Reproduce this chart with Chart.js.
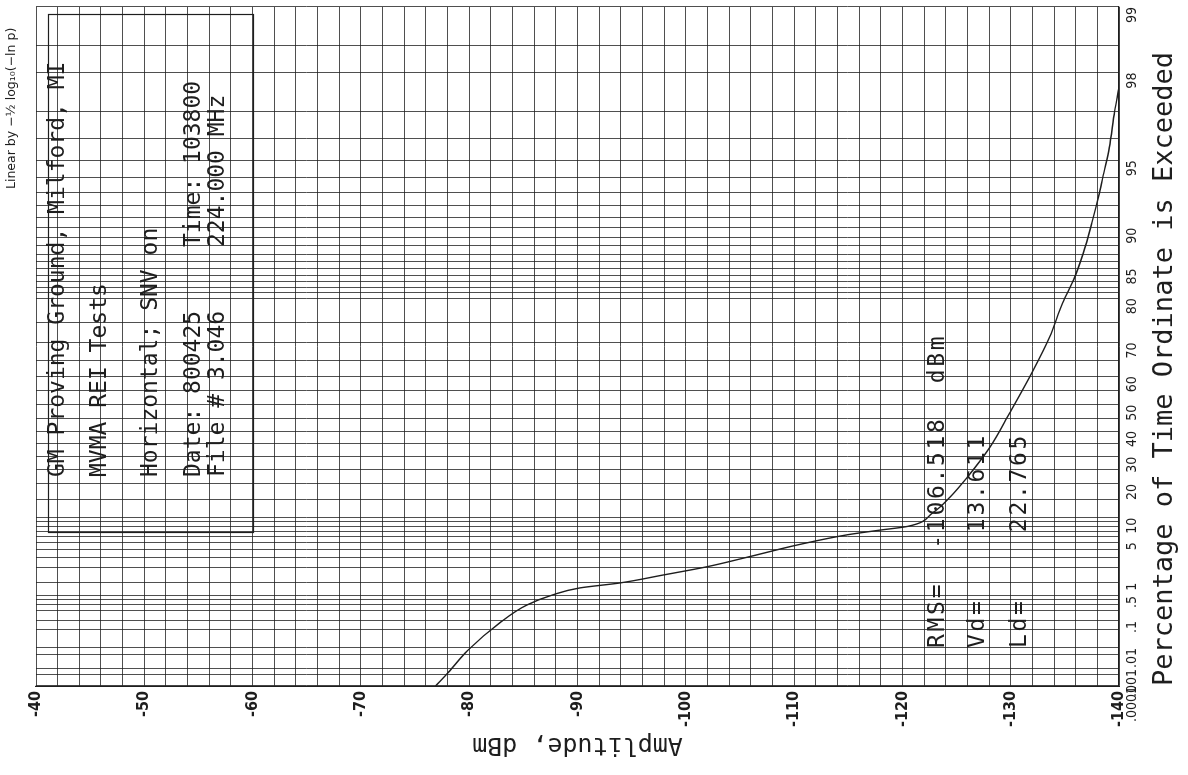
<!DOCTYPE html>
<html>
<head>
<meta charset="utf-8">
<script src="https://cdn.jsdelivr.net/npm/chart.js@4.4.1/dist/chart.umd.min.js"></script>
<style>
  html, body { margin: 0; padding: 0; background: #fff; width: 1188px; height: 775px; overflow: hidden; }
  /* the plot is drawn upright and the sheet is turned a quarter turn, like the plotter page */
  #sheet { position: absolute; left: 0; top: 0; width: 775px; height: 1188px;
           transform-origin: 0 0; transform: translate(0, 775px) rotate(-90deg); }
</style>
</head>
<body>
<div id="sheet"><canvas id="apd" width="775" height="1188"></canvas></div>
<script>
// measured APD curve: amplitude (dBm) vs percentage of time exceeded
const amplitudeDbm = [-76.9, -78.1, -79.9, -82.8, -85.3, -87.7, -90.2, -93.9, -97.9, -101.8,
  -105.7, -110.3, -114.9, -117.9, -120.5, -122.8, -124.4, -126.0, -128.1, -129.9,
  -132.1, -133.6, -134.8, -135.8, -136.7, -137.5, -138.2, -138.6, -139.1, -139.6, -140.0];
const percentExceeded = [0.0001, 0.00067, 0.0081, 0.085, 0.29, 0.53, 0.77, 0.99, 1.44, 2.03,
  3.0, 4.6, 6.3, 7.2, 8.0, 11.2, 15.7, 22.4, 33.8, 46.9,
  62.0, 71.4, 79.1, 83.2, 87.1, 90.5, 93.0, 94.3, 95.6, 97.0, 97.65];

// rayleigh paper rulings and the printed labels
const percentGrid = [0.0001, 0.0005, 0.001, 0.005, 0.01, 0.05, 0.1, 0.2, 0.3, 0.4, 0.5,
  1, 2, 3, 4, 5, 6, 7, 8, 9, 10, 15, 20, 25, 30, 35, 40, 45, 50, 55, 60, 65, 70, 75,
  80, 81, 82, 83, 84, 85, 86, 87, 88, 89, 90, 91, 92, 93, 94, 95, 96, 97, 98, 98.5, 99];
const percentTickValues = [0.0001, 0.001, 0.01, 0.1, 0.5, 1, 5, 10, 20, 30, 40, 50, 60, 70, 80, 85, 90, 95, 98, 99];
const percentTickText = ['.0001', '.001', '.01', '.1', '.5', '1', '5', '10', '20', '30', '40', '50', '60', '70', '80', '85', '90', '95', '98', '99'];
const amplitudeTickValues = [-40, -50, -60, -70, -80, -90, -100, -110, -120, -130, -140];

const infoLines = ['GM Proving Ground, Milford, MI', 'MVMA REI Tests', 'Horizontal; SNV on'];
const infoDate = ['Date: 800425', 'Time: 103800'];
const infoFile = ['File # 3.046', '224.000 MHz'];
const statLines = ['RMS=  -106.518  dBm', 'Vd=    13.611', 'Ld=    22.765'];

const ink = '#1e1e1e';
const gridInk = 'rgba(30,30,30,0.78)';
const narrow = "'Liberation Sans Narrow', 'DejaVu Sans Condensed', 'Liberation Sans', sans-serif";

// linear by -1/2 log10(-ln p)
const rayleigh = p => -0.5 * Math.log10(-Math.log(p / 100));

class RayleighScale extends Chart.Scale {
  static id = 'rayleigh';
  static defaults = {};
  determineDataLimits() {
    this.min = this.options.min;
    this.max = this.options.max;
    this._t0 = rayleigh(this.min);
    this._tr = rayleigh(this.max) - this._t0;
  }
  buildTicks() {
    return percentGrid.map(v => ({ value: v }));
  }
  getLabelForValue(v) { return String(v); }
  getPixelForValue(v) {
    return this.getPixelForDecimal((rayleigh(v) - this._t0) / this._tr);
  }
  getValueForPixel(px) {
    const t = this._t0 + this.getDecimalForPixel(px) * this._tr;
    return 100 * Math.exp(-Math.pow(10, -2 * t));
  }
}
Chart.register(RayleighScale);

const notes = {
  id: 'notes',
  afterDraw(chart) {
    const ctx = chart.ctx;
    ctx.save();
    ctx.fillStyle = ink;
    ctx.strokeStyle = ink;
    ctx.textBaseline = 'middle';
    ctx.textAlign = 'left';

    ctx.font = '12.5px "DejaVu Sans"';
    ctx.fillText('Linear by \u2212\u00bd log\u2081\u2080(\u2212ln p)', 586, 12);

    ctx.lineWidth = 1.2;
    ctx.strokeRect(242.5, 48.5, 518, 205);

    ctx.font = '23px "DejaVu Sans Mono"';
    ctx.fillText(infoLines[0], 298, 58);
    ctx.fillText(infoLines[1], 298, 100);
    ctx.fillText(infoLines[2], 298, 151);
    ctx.fillText(infoDate[0], 298, 194);
    ctx.fillText(infoDate[1], 528, 194);
    ctx.fillText(infoFile[0], 298, 218);
    ctx.fillText(infoFile[1], 528, 218);

    ctx.letterSpacing = '2.7px';
    ctx.fillText(statLines[0], 127, 938);
    ctx.fillText(statLines[1], 127, 978);
    ctx.fillText(statLines[2], 127, 1020);
    ctx.restore();
  }
};

new Chart(document.getElementById('apd'), {
  type: 'line',
  data: {
    datasets: [{
      data: percentExceeded.map((p, i) => ({ x: p, y: amplitudeDbm[i] })),
      borderColor: ink,
      borderWidth: 1.4,
      pointRadius: 0,
      cubicInterpolationMode: 'monotone',
      fill: false
    }]
  },
  options: {
    responsive: false,
    animation: false,
    events: [],
    layout: { padding: { top: 36, right: 7, left: 0, bottom: 0 } },
    plugins: { legend: { display: false }, tooltip: { enabled: false } },
    scales: {
      x: {
        type: 'rayleigh',
        position: 'bottom',
        min: 0.0001,
        max: 99,
        grid: { color: gridInk, lineWidth: 1, drawTicks: false },
        border: { color: ink, width: 1.2 },
        ticks: {
          autoSkip: false, maxRotation: 0, minRotation: 0, align: 'end', padding: 5, color: ink,
          font: { family: narrow, size: 14 },
          callback: v => {
            const i = percentTickValues.indexOf(v);
            return i < 0 ? '' : percentTickText[i];
          }
        },
        title: {
          display: true,
          text: 'Percentage of Time Ordinate is Exceeded',
          align: 'start',
          color: ink,
          font: { family: 'DejaVu Sans Mono', size: 27 },
          padding: { top: 0, bottom: 7 }
        },
        afterFit: s => { s.height = 69; }
      },
      y: {
        type: 'linear',
        position: 'left',
        min: -140,
        max: -40,
        grid: { color: gridInk, lineWidth: 1, drawTicks: false },
        border: { color: ink, width: 1.2 },
        ticks: {
          stepSize: 2, autoSkip: false, padding: 5, color: ink,
          font: { family: narrow, size: 16, weight: 'bold' },
          callback: v => amplitudeTickValues.includes(v) ? String(v) : ''
        },
        title: {
          display: true,
          text: 'Amplitude, dBm',
          color: ink,
          font: { family: 'DejaVu Sans Mono', size: 25 },
          padding: { top: 15, bottom: 0 }
        },
        afterFit: s => { s.width = 89; }
      }
    }
  },
  plugins: [notes]
});
</script>
</body>
</html>
